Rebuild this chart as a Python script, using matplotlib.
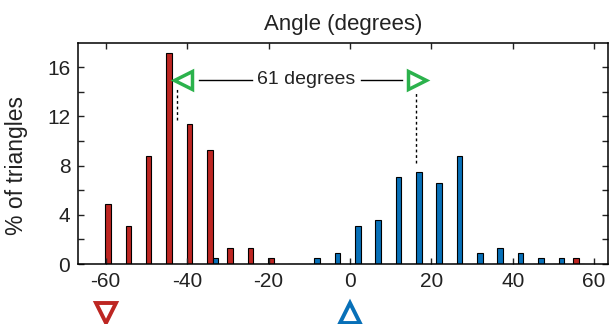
import numpy as np
import matplotlib
matplotlib.use("Agg")
import matplotlib.pyplot as plt

plt.rcParams['font.family'] = ['Liberation Sans', 'DejaVu Sans']
plt.rcParams['axes.unicode_minus'] = False

# bin centres (degrees) and the two histograms (% of triangles)
bin_centers = [-58.75, -53.75, -48.75, -43.75, -38.75, -33.75, -28.75, -23.75,
               -18.75, -13.75, -8.75, -3.75, 1.25, 6.25, 11.25, 16.25,
               21.25, 26.25, 31.25, 36.25, 41.25, 46.25, 51.25, 56.25]
red_pct = [4.9, 3.1, 8.8, 17.2, 11.4, 9.3, 1.3, 1.3,
           0.45, 0, 0, 0, 0, 0, 0, 0,
           0, 0, 0, 0, 0, 0, 0, 0.45]
blue_pct = [0, 0, 0, 0, 0, 0.45, 0, 0,
            0, 0, 0.45, 0.87, 3.1, 3.6, 7.1, 7.5,
            6.6, 8.8, 0.87, 1.33, 0.87, 0.45, 0.45, 0]

# annotation values
peak_left = -42.4
peak_right = 16.2
dash_left = (11.7, 14.4)
dash_right = (8.2, 14.0)
marker_left_x = -41.0
marker_right_x = 16.5
marker_y = 15.0
sep_label = "61 degrees"
ref_red_x = -60
ref_blue_x = 0

RED = '#BD2622'
BLUE = '#0870B8'
GREEN = '#2BB24C'
TXT = '#222222'

fig = plt.figure(figsize=(6.09, 3.24), dpi=100)
ax = fig.add_axes([78 / 609, 1 - 264 / 324, 530 / 609, (264 - 42.7) / 324])

x = np.array(bin_centers)
w = 1.35
ax.bar(x - w / 2, red_pct, width=w, color=RED, edgecolor='black', lw=0.8)
ax.bar(x + w / 2, blue_pct, width=w, color=BLUE, edgecolor='black', lw=0.8)

# dashed markers of the two peaks
ax.plot([peak_left, peak_left], dash_left, 'k--', lw=1, dashes=(2, 2))
ax.plot([peak_right, peak_right], dash_right, 'k--', lw=1, dashes=(2, 2))

# green triangles + separation label
ax.plot(marker_left_x, marker_y, marker='<', ms=13, mfc='none', mec=GREEN, mew=2.5)
ax.plot(marker_right_x, marker_y, marker='>', ms=13, mfc='none', mec=GREEN, mew=2.5)
ax.plot([-37.1, -24.1], [marker_y, marker_y], color='k', lw=1)
ax.plot([2.7, 12.7], [marker_y, marker_y], color='k', lw=1)
ax.text(-10.8, marker_y, sep_label, ha='center', va='center', fontsize=14, color=TXT)

# reference triangles below the axis
ax.plot(ref_red_x, -3.95, marker='v', ms=14, mfc='none', mec=RED, mew=2.8, clip_on=False)
ax.plot(ref_blue_x, -3.95, marker='^', ms=14, mfc='none', mec=BLUE, mew=2.8, clip_on=False)

ax.set_xlim(-66.8, 63.4)
ax.set_ylim(0, 18)
ax.set_xticks([-60, -40, -20, 0, 20, 40, 60])
ax.set_yticks([0, 4, 8, 12, 16])
ax.set_yticks([2, 6, 10, 14], minor=True)
ax.tick_params(which='both', direction='in', top=True, right=True, length=4, width=1,
               labelsize=15, colors=TXT)
ax.tick_params(axis='x', pad=6)
ax.tick_params(axis='y', pad=5.5)
for s in ax.spines.values():
    s.set_linewidth(1.1)

ax.set_title("Angle (degrees)", fontsize=16, pad=9, color=TXT)
ax.set_ylabel("% of triangles", fontsize=16.5, color=TXT)
ax.yaxis.set_label_coords(-0.095, 0.445)

fig.savefig("out.png", dpi=100)
